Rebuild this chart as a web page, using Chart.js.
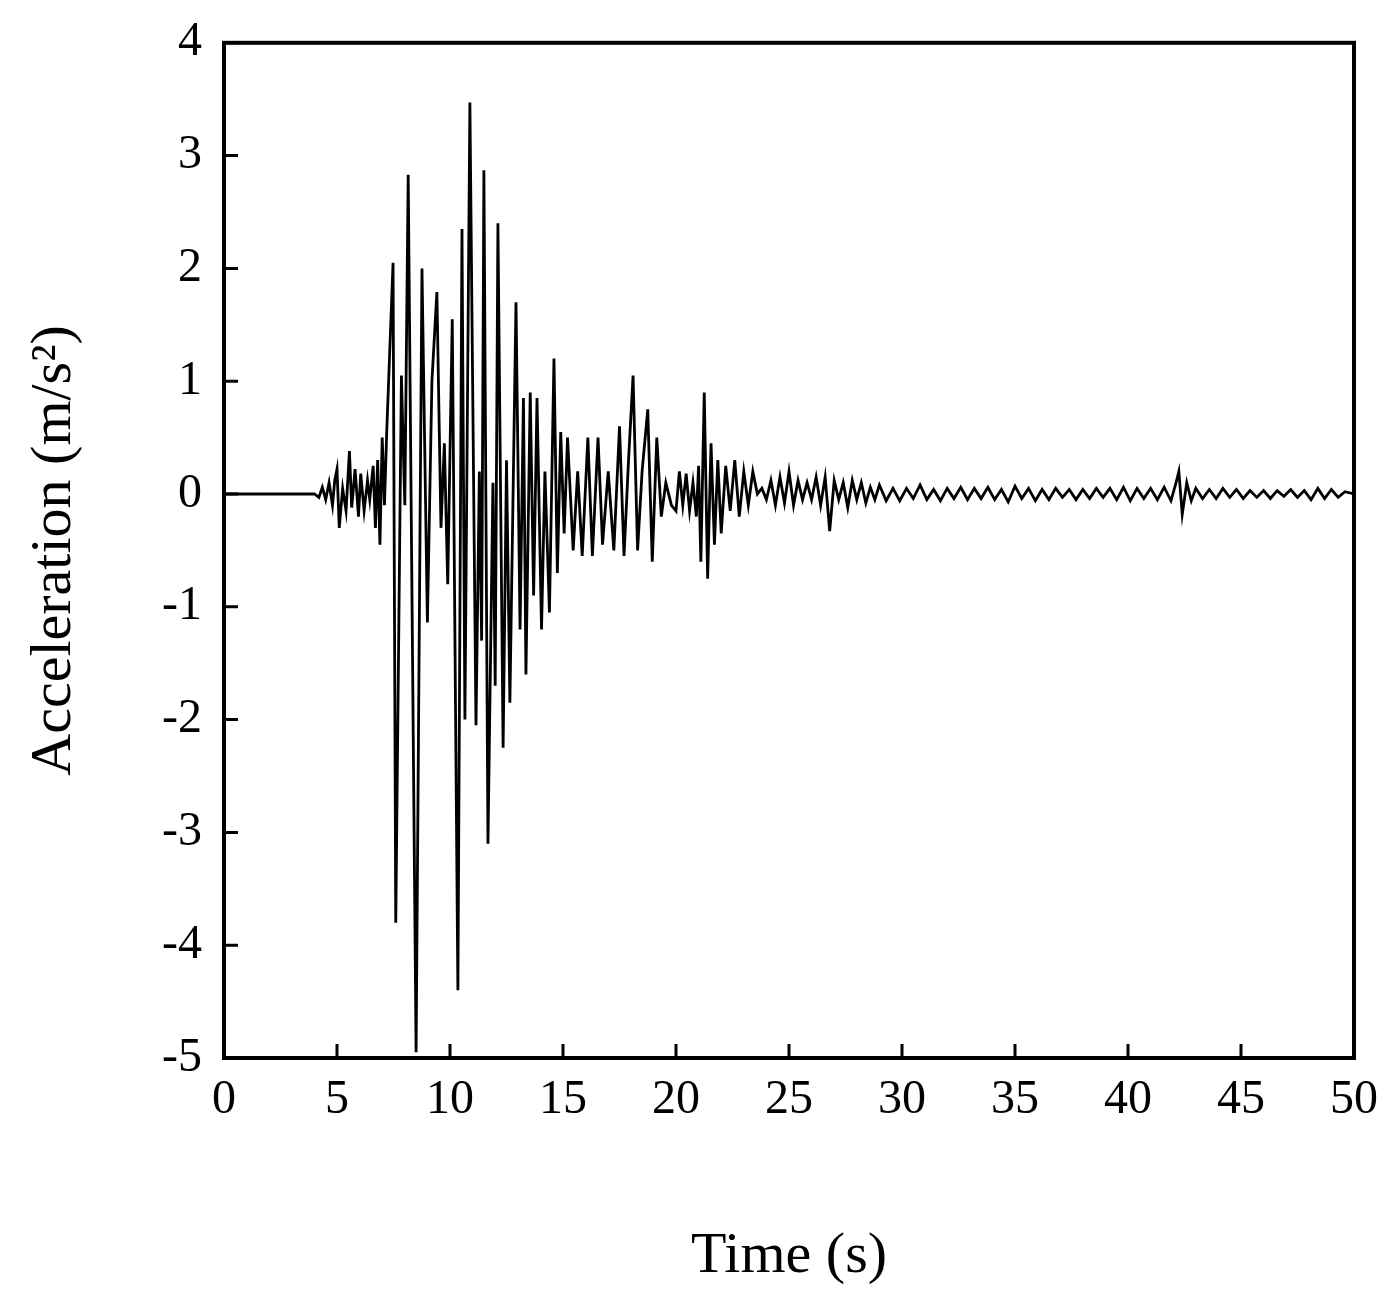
<!DOCTYPE html>
<html>
<head>
<meta charset="utf-8">
<script src="https://cdn.jsdelivr.net/npm/chart.js@4/dist/chart.umd.min.js"></script>
<style>
  body { margin: 0; background: #fff; }
  canvas { display: block; }
</style>
</head>
<body>
<canvas id="chart-accel" width="1389" height="1296"></canvas>
<script>
// Time (s) and acceleration (m/s^2)
const times = [
  0, 4.0, 4.2, 4.35, 4.5, 4.65, 4.8, 4.9, 5.0, 5.1, 5.25, 5.4, 5.55, 5.65, 5.8, 5.95, 6.05, 6.2, 6.35, 6.45, 6.6, 6.7, 6.8, 6.9, 7.0, 7.1, 7.2,
  7.48, 7.6, 7.85, 8.0, 8.15, 8.5, 8.76, 9.0, 9.2, 9.42, 9.6, 9.75, 9.9, 10.1, 10.35, 10.53, 10.66, 10.88, 11.15, 11.3, 11.4, 11.5, 11.68,
  11.9, 12.0, 12.12, 12.35, 12.5, 12.65, 12.92, 13.1, 13.25, 13.36, 13.55, 13.7, 13.85, 14.05, 14.2, 14.4, 14.6, 14.75, 14.9, 15.05,
  15.2, 15.45, 15.65, 15.85, 16.1, 16.3, 16.55, 16.75, 17.0, 17.25, 17.5, 17.7, 17.9, 18.1, 18.3, 18.5, 18.75, 18.95, 19.15, 19.35, 19.55, 19.8,
  20.0, 20.15, 20.3, 20.45, 20.6, 20.75, 20.9, 21.0, 21.1, 21.25, 21.4, 21.55, 21.7, 21.85, 22.0, 22.2, 22.4, 22.6, 22.8, 23.0, 23.2,
  23.4, 23.6, 23.8, 24.0, 24.2, 24.4, 24.6, 24.8, 25.0, 25.2, 25.4, 25.6, 25.8, 26.0, 26.2, 26.4, 26.6, 26.8, 27.0, 27.2, 27.4, 27.6,
  27.8, 28.0, 28.2, 28.4, 28.6, 28.8,
  29.0, 29.3, 29.6, 29.9, 30.2, 30.5, 30.8, 31.1, 31.4, 31.7,
  32.0, 32.3, 32.6, 32.9, 33.2, 33.5, 33.8, 34.1, 34.4, 34.7,
  35.0, 35.3, 35.6, 35.9, 36.2, 36.5, 36.8, 37.1, 37.4, 37.7,
  38.0, 38.3, 38.6, 38.9, 39.2, 39.5, 39.8, 40.1, 40.4, 40.7,
  41.0, 41.3, 41.6, 41.9, 42.1, 42.25, 42.4, 42.6, 42.8, 43.0,
  43.3, 43.6, 43.9, 44.2, 44.5, 44.8, 45.1, 45.4, 45.7, 46.0,
  46.3, 46.6, 46.9, 47.2, 47.5, 47.8, 48.1, 48.4, 48.7, 49.0,
  49.3, 49.6, 50.0
];
const accel = [
  0, 0, -0.03, 0.06, -0.05, 0.1, -0.1, 0.12, 0.22, -0.3, 0.05, -0.15, 0.38, -0.12, 0.22, -0.2, 0.18, -0.15, 0.12, -0.05, 0.25, -0.3, 0.3, -0.45, 0.5, -0.1, 0.55,
  2.05, -3.8, 1.05, -0.1, 2.83, -4.95, 2.0, -1.14, 1.0, 1.79, -0.3, 0.45, -0.8, 1.55, -4.4, 2.35, -2.0, 3.47, -2.05, 0.2, -1.3, 2.87, -3.1,
  0.1, -1.7, 2.4, -2.25, 0.3, -1.85, 1.7, -1.2, 0.85, -1.6, 0.9, -0.9, 0.85, -1.2, 0.2, -1.05, 1.2, -0.7, 0.55, -0.35,
  0.5, -0.5, 0.2, -0.55, 0.5, -0.55, 0.5, -0.45, 0.2, -0.5, 0.6, -0.55, 0.3, 1.05, -0.5, 0.2, 0.75, -0.6, 0.5, -0.2, 0.1, -0.1,
  -0.15, 0.2, -0.1, 0.18, -0.15, 0.1, -0.2, 0.25, -0.6, 0.9, -0.75, 0.45, -0.45, 0.3, -0.35, 0.25, -0.15, 0.3, -0.2, 0.2, -0.1,
  0.2, 0.0, 0.05, -0.05, 0.12, -0.1, 0.15, -0.08, 0.2, -0.1, 0.12, -0.05, 0.1, -0.05, 0.15, -0.1, 0.15, -0.33, 0.12, -0.05, 0.1, -0.12,
  0.12, -0.05, 0.1, -0.08, 0.06, -0.05,
  0.08, -0.06, 0.05, -0.06, 0.05, -0.04, 0.08, -0.05, 0.04, -0.06,
  0.05, -0.04, 0.06, -0.05, 0.05, -0.04, 0.06, -0.05, 0.04, -0.07,
  0.07, -0.04, 0.05, -0.06, 0.04, -0.05, 0.05, -0.03, 0.04, -0.05,
  0.04, -0.04, 0.05, -0.03, 0.05, -0.05, 0.06, -0.06, 0.05, -0.04,
  0.05, -0.05, 0.06, -0.06, 0.08, 0.2, -0.18, 0.1, -0.06, 0.05,
  -0.04, 0.04, -0.04, 0.05, -0.03, 0.04, -0.04, 0.03, -0.03, 0.03,
  -0.04, 0.03, -0.02, 0.04, -0.03, 0.03, -0.05, 0.05, -0.04, 0.04,
  -0.03, 0.02, 0
];
const xTicks = [0, 5, 10, 15, 20, 25, 30, 35, 40, 45, 50];
const yTicks = [-5, -4, -3, -2, -1, 0, 1, 2, 3, 4];

const FONT = '"Liberation Serif", "DejaVu Serif", serif';

// frame and inward tick marks
const framePlugin = {
  id: 'frame',
  afterDraw(chart) {
    const { ctx, chartArea: a, scales } = chart;
    ctx.save();
    ctx.strokeStyle = '#000';
    ctx.lineWidth = 4;
    ctx.strokeRect(a.left, a.top, a.right - a.left, a.bottom - a.top);
    ctx.lineWidth = 3;
    ctx.beginPath();
    xTicks.forEach(v => {
      const px = scales.x.getPixelForValue(v);
      ctx.moveTo(px, a.bottom);
      ctx.lineTo(px, a.bottom - 14);
    });
    yTicks.forEach(v => {
      const py = scales.y.getPixelForValue(v);
      ctx.moveTo(a.left, py);
      ctx.lineTo(a.left + 14, py);
    });
    ctx.stroke();
    ctx.restore();
  }
};

new Chart(document.getElementById('chart-accel').getContext('2d'), {
  type: 'line',
  data: {
    datasets: [{
      data: times.map((t, i) => ({ x: t, y: accel[i] })),
      borderColor: '#000',
      borderWidth: 2.8,
      pointRadius: 0,
      tension: 0,
      fill: false
    }]
  },
  options: {
    responsive: false,
    animation: false,
    layout: { padding: { top: 38, right: 35, left: 0, bottom: 0 } },
    plugins: { legend: { display: false }, tooltip: { enabled: false } },
    scales: {
      x: {
        type: 'linear', min: 0, max: 50,
        afterBuildTicks: s => { s.ticks = xTicks.map(v => ({ value: v })); },
        afterFit: s => { s.height = 238; },
        grid: { display: false },
        border: { display: false },
        ticks: { color: '#000', font: { family: FONT, size: 48 }, padding: 6, maxRotation: 0 },
        title: { display: true, text: 'Time (s)', color: '#000', font: { family: FONT, size: 58 }, padding: { top: 50 } }
      },
      y: {
        min: -5, max: 4,
        afterBuildTicks: s => { s.ticks = yTicks.map(v => ({ value: v })); },
        afterFit: s => { s.width = 224; },
        grid: { display: false },
        border: { display: false },
        ticks: { color: '#000', font: { family: FONT, size: 48 }, padding: 14 },
        title: { display: true, text: 'Acceleration (m/s²)', color: '#000', font: { family: FONT, size: 58 }, padding: { top: 20, bottom: 40 } }
      }
    }
  },
  plugins: [framePlugin]
});
</script>
</body>
</html>
